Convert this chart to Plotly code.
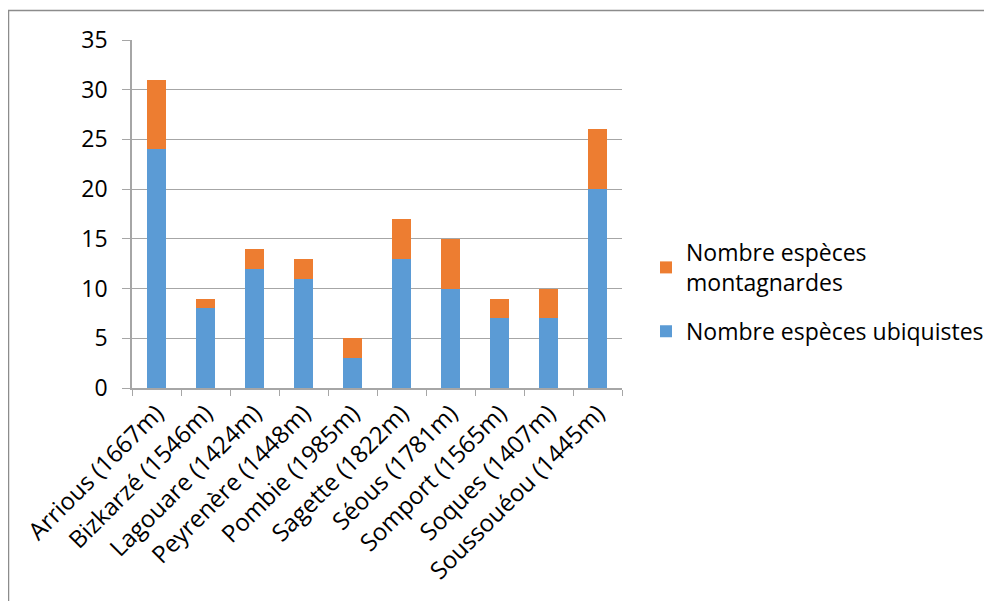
import plotly.graph_objects as go

categories = ["Arrious (1667m)", "Bizkarzé (1546m)", "Lagouare (1424m)", "Peyrenère (1448m)",
              "Pombie (1985m)", "Sagette (1822m)", "Séous (1781m)", "Somport (1565m)",
              "Soques (1407m)", "Soussouéou (1445m)"]
ubiquistes = [24, 8, 12, 11, 3, 13, 10, 7, 7, 20]
montagnardes = [7, 1, 2, 2, 2, 4, 5, 2, 3, 6]

# page body has an 8px margin; work in figure coordinates
W, H = 984, 593
L, R, T, B = 124, 614, 32, 380
pw, ph = R - L, B - T

fig = go.Figure()
fig.add_trace(go.Bar(x=categories, y=ubiquistes, name="Nombre espèces ubiquistes",
                     legendgroup="u", legendrank=2,
                     marker=dict(color="#5B9BD5", line=dict(width=0))))
fig.add_trace(go.Bar(x=categories, y=montagnardes, name="Nombre espèces<br>montagnardes",
                     legendgroup="m", legendrank=1,
                     marker=dict(color="#ED7D31", line=dict(width=0))))

font = "Open Sans, Noto Sans, sans-serif"
fig.update_layout(
    width=W, height=H,
    margin=dict(l=L, r=W - R, t=T, b=H - B, pad=0, autoexpand=False),
    barmode="stack", bargap=0.6,
    plot_bgcolor="white", paper_bgcolor="white",
    font=dict(family=font, size=20, color="#000000"),
    showlegend=True,
    legend=dict(x=(638 - L) / pw, y=(B - 223) / ph, xanchor="left", yanchor="top",
                traceorder="grouped", font=dict(size=23), itemwidth=30,
                tracegroupgap=16, bgcolor="rgba(0,0,0,0)"),
    xaxis=dict(tickangle=-45, showline=True, linecolor="#A6A6A6", linewidth=1.5,
               ticks="outside", ticklen=6, tickcolor="#A6A6A6", tickson="boundaries",
               showgrid=False, tickfont=dict(size=24), automargin=False),
    yaxis=dict(range=[0, 35], dtick=5, showline=True, linecolor="#A6A6A6", linewidth=1.5,
               showgrid=True, gridcolor="#A6A6A6", gridwidth=1.2,
               ticks="outside", ticklen=8, tickcolor="#A6A6A6", ticklabelstandoff=10,
               tickfont=dict(size=23), zeroline=False, automargin=False),
    shapes=[dict(type="rect", xref="paper", yref="paper",
                 x0=(0.5 - L) / pw, x1=(1200 - L) / pw,
                 y0=(B - 800) / ph, y1=(B - 2.5) / ph,
                 line=dict(color="#8C8C8C", width=1.5), fillcolor="rgba(0,0,0,0)", layer="below")],
)
fig.write_html("out.html")
